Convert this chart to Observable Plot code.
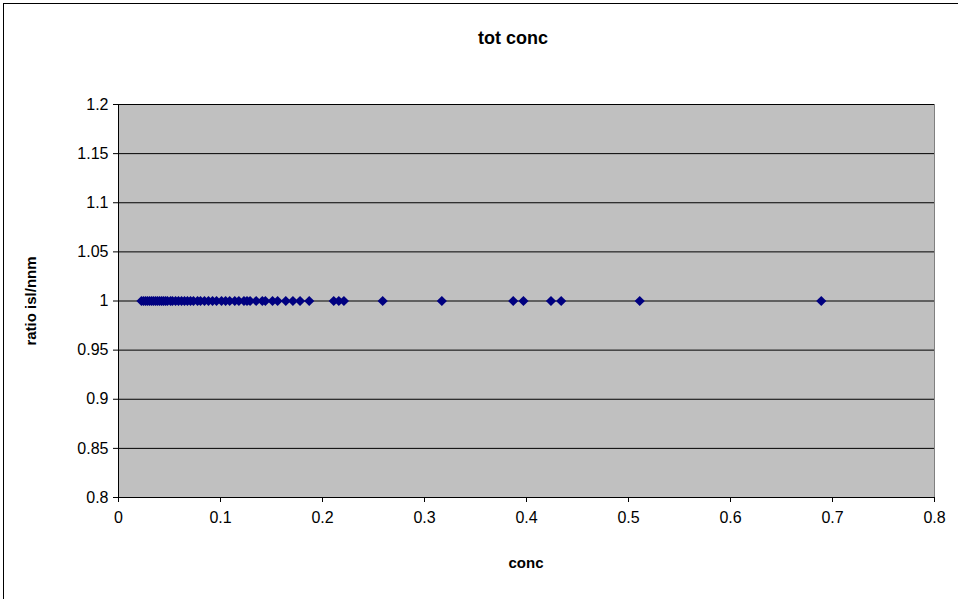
<!DOCTYPE html>
<html><head><meta charset="utf-8">
<script src="https://cdn.jsdelivr.net/npm/d3@7"></script>
<script src="https://cdn.jsdelivr.net/npm/@observablehq/plot@0.6"></script>
<style>
html,body{margin:0;padding:0;background:#fff;overflow:hidden;width:958px;height:599px;font-family:"Liberation Sans",Arial,sans-serif}
#frame{position:absolute;left:3px;top:3px;width:1000px;height:700px;border:1px solid #000;box-sizing:border-box}
#title{position:absolute;left:0;width:1026px;top:28px;text-align:center;font-weight:bold;font-size:18px}
#xlab{position:absolute;left:118px;width:816px;top:554px;text-align:center;font-weight:bold;font-size:15px}
#ylab{position:absolute;left:30px;top:301px;transform:translate(-50%,-50%) rotate(-90deg);white-space:nowrap;font-weight:bold;font-size:15px}
#chart{position:absolute;left:0;top:0}
</style></head><body>
<div id="frame"></div>
<div id="title">tot conc</div>
<div id="chart"></div>
<div id="xlab">conc</div>
<div id="ylab">ratio isl/nnm</div>
<script>
const concValues = [0.0225,0.0245,0.0265,0.0284,0.0304,0.0324,0.0343,0.0363,0.0382,0.0402,0.0422,0.0441,0.0461,0.048,0.051,0.0529,0.0559,0.0588,0.0618,0.0647,0.0676,0.0706,0.0735,0.0775,0.0804,0.0843,0.0882,0.0922,0.0961,0.101,0.105,0.109,0.114,0.118,0.123,0.126,0.129,0.135,0.141,0.144,0.151,0.156,0.164,0.171,0.178,0.187,0.211,0.216,0.221,0.259,0.317,0.387,0.397,0.424,0.434,0.511,0.689];
const ratioValues = concValues.map(() => 1);
const xTicks = [0,0.1,0.2,0.3,0.4,0.5,0.6,0.7,0.8];
const yTicks = [0.8,0.85,0.9,0.95,1,1.05,1.1,1.15,1.2];
const data = concValues.map((c,i) => ({conc:c, ratio:ratioValues[i]}));
const fmt = d => String(+d.toFixed(2));
const chart = Plot.plot({
  width: 958, height: 599,
  marginLeft: 118, marginRight: 24, marginTop: 104, marginBottom: 102,
  style: {fontFamily: '"Liberation Sans", Arial, sans-serif', fontSize: "16px", color: "#000", background: "transparent"},
  x: {domain: [0, 0.8]},
  y: {domain: [0.8, 1.2]},
  marks: [
    Plot.frame({fill: "#C0C0C0", stroke: "#808080"}),
    Plot.gridY(yTicks, {stroke: "#000", strokeOpacity: 1}),
    Plot.ruleX([0], {stroke: "#000"}),
    Plot.ruleY([0.8], {stroke: "#000"}),
    Plot.axisY(yTicks, {tickSize: 5, tickPadding: 5, tickFormat: fmt, label: null, fontSize: 16}),
    Plot.axisX(xTicks, {tickSize: 5, tickPadding: 9, tickFormat: fmt, label: null, fontSize: 16}),
    Plot.dot(data, {x: "conc", y: "ratio", symbol: "diamond2", r: 4.6, fill: "#000080", stroke: null})
  ]
});
document.getElementById("chart").appendChild(chart);
</script>
</body></html>
